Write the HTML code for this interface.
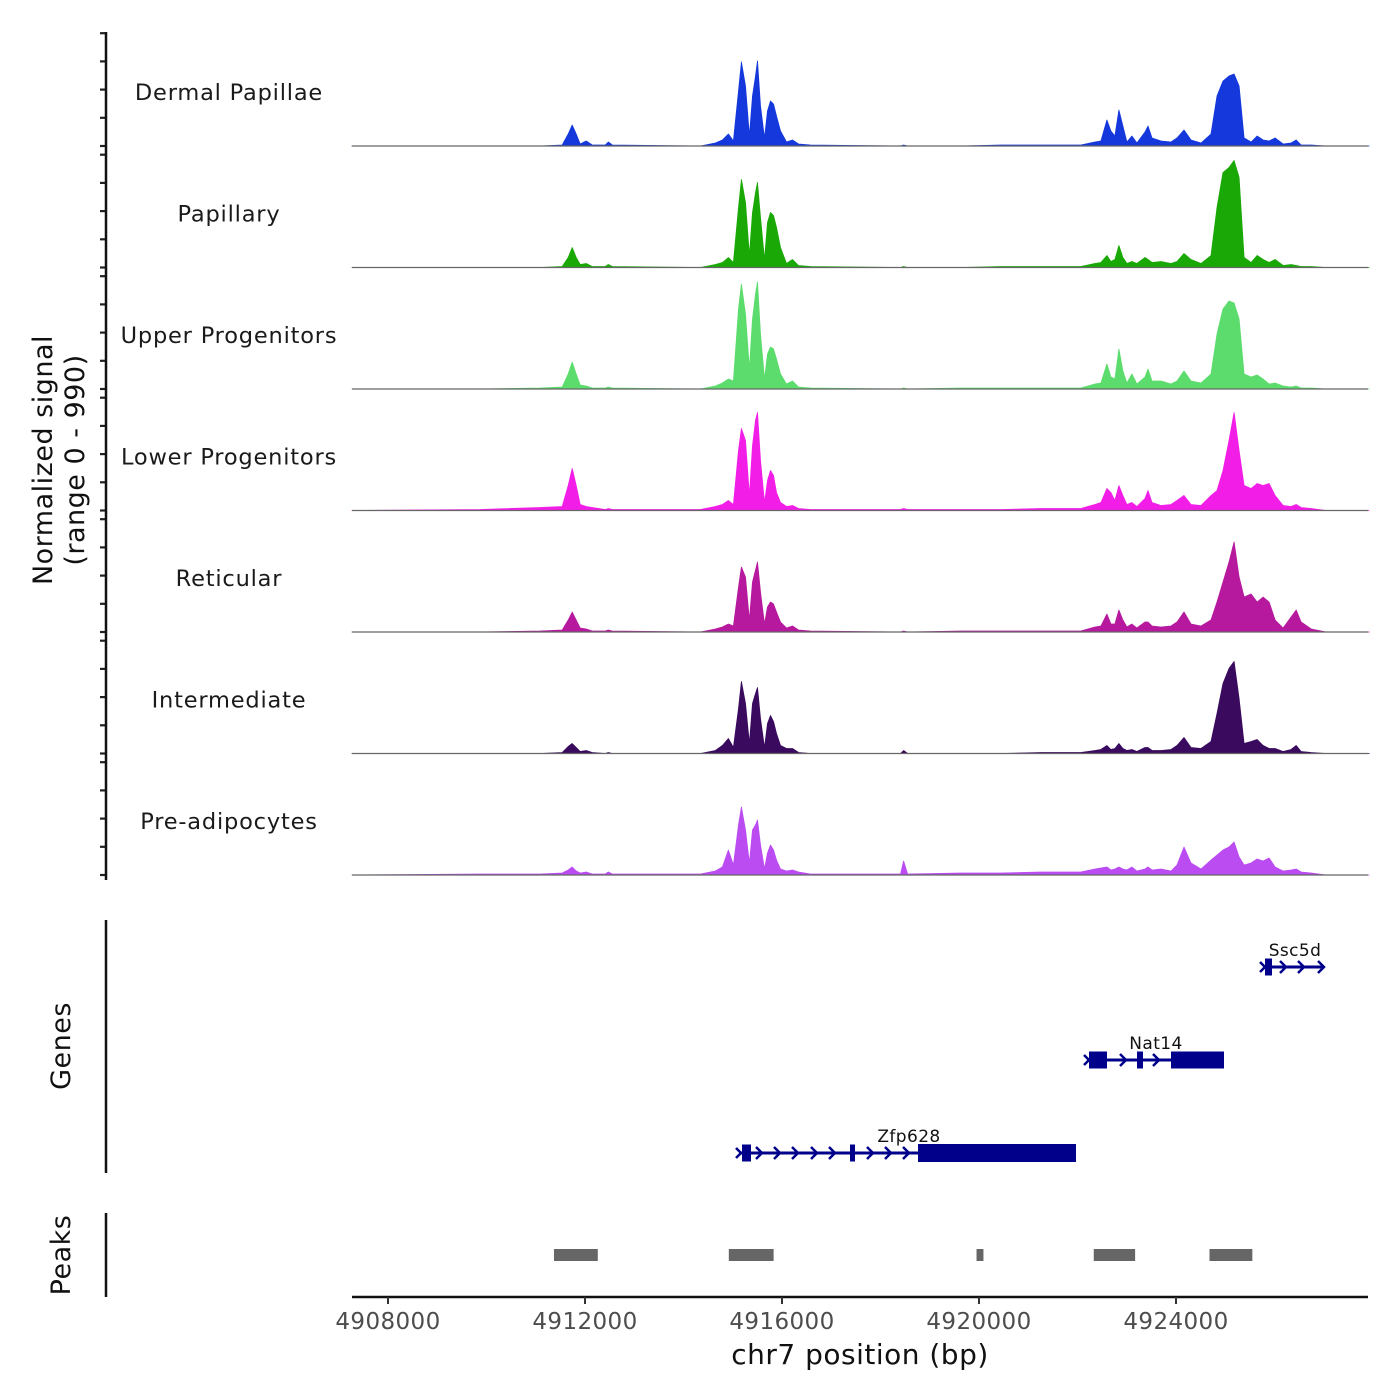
<!DOCTYPE html>
<html><head><meta charset="utf-8"><style>
body{margin:0;background:#fff}
svg{display:block;font-family:"DejaVu Sans","Liberation Sans",sans-serif}
</style></head><body>
<svg id="chart" width="1400" height="1400" viewBox="0 0 1400 1400">
<g id="tracks"></g>
<g id="axes"></g>
<g id="genes"></g>
<g id="peaks"></g>
</svg>
<script>
const positions=[4907268,4909870,4911090,4911537,4911659,4911741,4911822,4911903,4912025,4912147,4912412,4912473,4912554,4914343,4914648,4914790,4914912,4915014,4915116,4915176,4915258,4915339,4915400,4915461,4915502,4915563,4915644,4915705,4915766,4915827,4915888,4915969,4916091,4916213,4916335,4916579,4918409,4918470,4918551,4919629,4920442,4921255,4922068,4922353,4922475,4922597,4922678,4922760,4922841,4922922,4923004,4923105,4923207,4923370,4923431,4923512,4923695,4923898,4924020,4924162,4924305,4924508,4924711,4924833,4924955,4925077,4925179,4925281,4925382,4925524,4925646,4925768,4925890,4926012,4926175,4926338,4926440,4926541,4926745,4927050,4927923];
const trackNames=["Dermal Papillae","Papillary","Upper Progenitors","Lower Progenitors","Reticular","Intermediate","Pre-adipocytes"];
const dermalPapillae=[0,0,0,1,12,21,12,2,5,1,1,4,1,0,3,6,12,5,55,84,60,10,50,70,85,40,8,35,45,42,30,15,4,6,2,1,0,1,0,0,1,1,1,4,5,26,15,10,36,20,4,10,3,14,20,8,5,4,8,16,6,3,12,50,65,70,72,60,8,4,10,6,5,8,2,3,6,1,1,0,0];
const papillary=[0,0,0,1,10,20,10,3,4,1,1,3,1,0,3,5,10,5,60,88,65,12,55,75,85,50,8,45,55,52,40,20,4,8,2,1,0,1,0,0,1,1,1,4,5,12,6,8,22,10,4,6,4,10,8,5,6,4,6,14,8,4,12,60,95,100,107,90,10,5,12,8,5,8,2,3,2,1,1,0,0];
const upperProgenitors=[0,0,1,2,15,27,15,4,3,1,1,2,1,0,3,6,10,8,80,105,75,20,70,95,107,55,10,35,42,40,30,15,5,8,2,1,0,1,0,1,1,1,1,5,6,25,12,10,40,18,6,15,5,12,20,8,8,5,8,18,8,6,15,55,80,88,86,70,15,12,14,10,5,6,3,2,3,1,1,0,0];
const lowerProgenitors=[0,1,3,4,25,42,25,6,4,3,1,2,1,1,4,6,10,6,60,82,70,15,65,90,98,50,8,30,40,35,18,8,4,5,2,1,1,2,1,1,1,2,2,6,8,22,18,10,25,15,6,8,4,12,20,8,5,6,10,15,6,5,15,20,40,70,98,60,25,22,27,25,27,15,5,4,6,3,2,0,0];
const reticular=[0,0,1,2,12,20,12,4,3,1,1,2,1,0,3,5,8,6,45,65,55,12,50,62,70,40,8,25,30,28,20,10,4,6,2,1,0,1,0,1,1,1,1,5,6,18,8,8,22,12,5,8,4,10,10,6,5,6,10,20,8,6,12,30,50,70,90,55,35,38,30,35,30,12,4,15,22,10,3,0,0];
const intermediate=[0,0,0,1,7,10,6,2,3,1,0,1,0,0,3,8,15,6,45,72,50,10,50,60,66,35,6,30,38,32,20,8,5,5,1,0,0,3,0,0,0,1,1,3,4,8,4,5,10,5,3,4,2,6,6,3,3,4,8,16,6,5,12,40,70,85,92,55,10,12,14,8,5,5,2,4,8,2,1,0,0];
const preAdipocytes=[0,1,1,2,5,8,4,2,3,1,1,3,1,1,4,8,25,10,50,68,45,12,45,50,55,30,6,22,30,25,15,6,4,5,3,1,1,14,1,2,2,3,3,6,7,8,5,6,8,6,5,8,4,6,8,5,6,4,10,28,12,6,15,20,25,28,33,18,10,12,16,14,17,8,4,5,6,3,2,0,0];
const trackColors=["#1438dc","#1aa806","#5cdc6c","#f21ee8","#b6199e","#3a0a5e","#ba4cf2"];
const xTicks=[4908000,4912000,4916000,4920000,4924000];
const peakStarts=[4911370,4914920,4919950,4922330,4924680];
const peakEnds=[4912260,4915830,4920090,4923170,4925550];

const NS="http://www.w3.org/2000/svg";
function mk(tag,attrs,parent){const e=document.createElementNS(NS,tag);for(const k in attrs)e.setAttribute(k,attrs[k]);parent.appendChild(e);return e;}
const xScale=bp=>388+(bp-4908000)*(197/4000);
const baselines=[146,267.5,389,510.5,632,753.5,875];
const yScale=(v,b)=>b-v*(110/110);
const series=[dermalPapillae,papillary,upperProgenitors,lowerProgenitors,reticular,intermediate,preAdipocytes];
const tracks=document.getElementById('tracks');
series.forEach((vals,t)=>{
  const b=baselines[t];
  let d="M"+xScale(positions[0])+","+b;
  vals.forEach((v,i)=>{d+=" L"+xScale(positions[i]).toFixed(1)+","+yScale(v,b).toFixed(1);});
  d+=" L"+xScale(positions[positions.length-1])+","+b+" Z";
  const p=mk('path',{d:d,fill:trackColors[t],stroke:trackColors[t],'stroke-width':0.8,'stroke-linejoin':'round'},tracks);
  
  
  const bl=mk('line',{x1:352,x2:1368,y1:b,y2:b,stroke:'#666','stroke-width':1.2},tracks);
  
  
  const lab=mk('text',{x:229,y:b-46,'text-anchor':'middle','font-size':22.5,fill:'#1a1a1a','letter-spacing':'0.8'},tracks);
  lab.textContent=trackNames[t];
  
  
  for(let k=0;k<5;k++){
    const ty=b-k*28.2;
    const tk=mk('line',{x1:100,x2:106,y1:ty,y2:ty,stroke:'#222','stroke-width':2.2},tracks);
    
    
  }
});
const axes=document.getElementById('axes');
[[32,880],[920,1173],[1213,1297]].forEach(r=>{
  const l=mk('line',{x1:106,x2:106,y1:r[0],y2:r[1],stroke:'#111','stroke-width':2.5},axes);
  
  
});
const yt=mk('text',{transform:'translate(52,460) rotate(-90)','text-anchor':'middle','font-size':27,fill:'#111','letter-spacing':'0.5'},axes);
yt.textContent="Normalized signal";


const yt2=mk('text',{transform:'translate(84,460) rotate(-90)','text-anchor':'middle','font-size':27,fill:'#111','letter-spacing':'0.5'},axes);
yt2.textContent="(range 0 - 990)";


const gt=mk('text',{transform:'translate(70,1046) rotate(-90)','text-anchor':'middle','font-size':27,fill:'#111','letter-spacing':'0.5'},axes);
gt.textContent="Genes";


const pt=mk('text',{transform:'translate(70,1255) rotate(-90)','text-anchor':'middle','font-size':27,fill:'#111','letter-spacing':'0.5'},axes);
pt.textContent="Peaks";


const xa=mk('line',{x1:352,x2:1368,y1:1297,y2:1297,stroke:'#111','stroke-width':2.5},axes);


xTicks.forEach(v=>{
  const x=xScale(v);
  const tk=mk('line',{x1:x,x2:x,y1:1297,y2:1304,stroke:'#333','stroke-width':2},axes);
  
  
  const tl=mk('text',{x:x,y:1329,'text-anchor':'middle','font-size':23,fill:'#4d4d4d','letter-spacing':'0.4'},axes);
  tl.textContent=v;
  
  
});
const xt=mk('text',{x:860,y:1364,'text-anchor':'middle','font-size':28,fill:'#111','letter-spacing':'0.5'},axes);
xt.textContent="chr7 position (bp)";



const peaksG=document.getElementById('peaks');
peakStarts.forEach((s,i)=>{
  const x1=xScale(s),x2=xScale(peakEnds[i]);
  const r=mk('rect',{x:x1,y:1249,width:x2-x1,height:12,fill:'#666'},peaksG);
  
  
});

const genesG=document.getElementById('genes');
const C='#00008b';
function gene(name,y,x1,x2,exons,chev,lx){
  const g=mk('g',{},genesG);
  
  
  mk('line',{x1:x1,x2:x2,y1:y,y2:y,stroke:C,'stroke-width':3},g);
  mk('path',{d:`M${x1-3},${y-5} L${x1+2},${y} L${x1-3},${y+5}`,stroke:C,fill:'none','stroke-width':2.5},g);
  exons.forEach(e=>mk('rect',{x:e[0],y:y-e[2]/2,width:e[1]-e[0],height:e[2],fill:C},g));
  chev.forEach(c=>mk('path',{d:`M${c-4},${y-6} L${c+2},${y} L${c-4},${y+6}`,stroke:C,fill:'none','stroke-width':2.5},g));
  const t=mk('text',{x:lx,y:y-11,'text-anchor':'middle','font-size':17,fill:'#111','letter-spacing':'0.4'},g);
  t.textContent=name;
}
gene('Zfp628',1153,739,1076,[[742,751,17],[850,855,17],[918,1076,18]],[760,778,796,815,833,871,889,907],909);
gene('Nat14',1060,1087,1224,[[1089,1107,17],[1137,1143,17],[1171,1224,17]],[1124,1157],1156);
gene('Ssc5d',967,1263,1323,[[1265,1272,17]],[1284,1302,1322],1295);
</script>
</body></html>
